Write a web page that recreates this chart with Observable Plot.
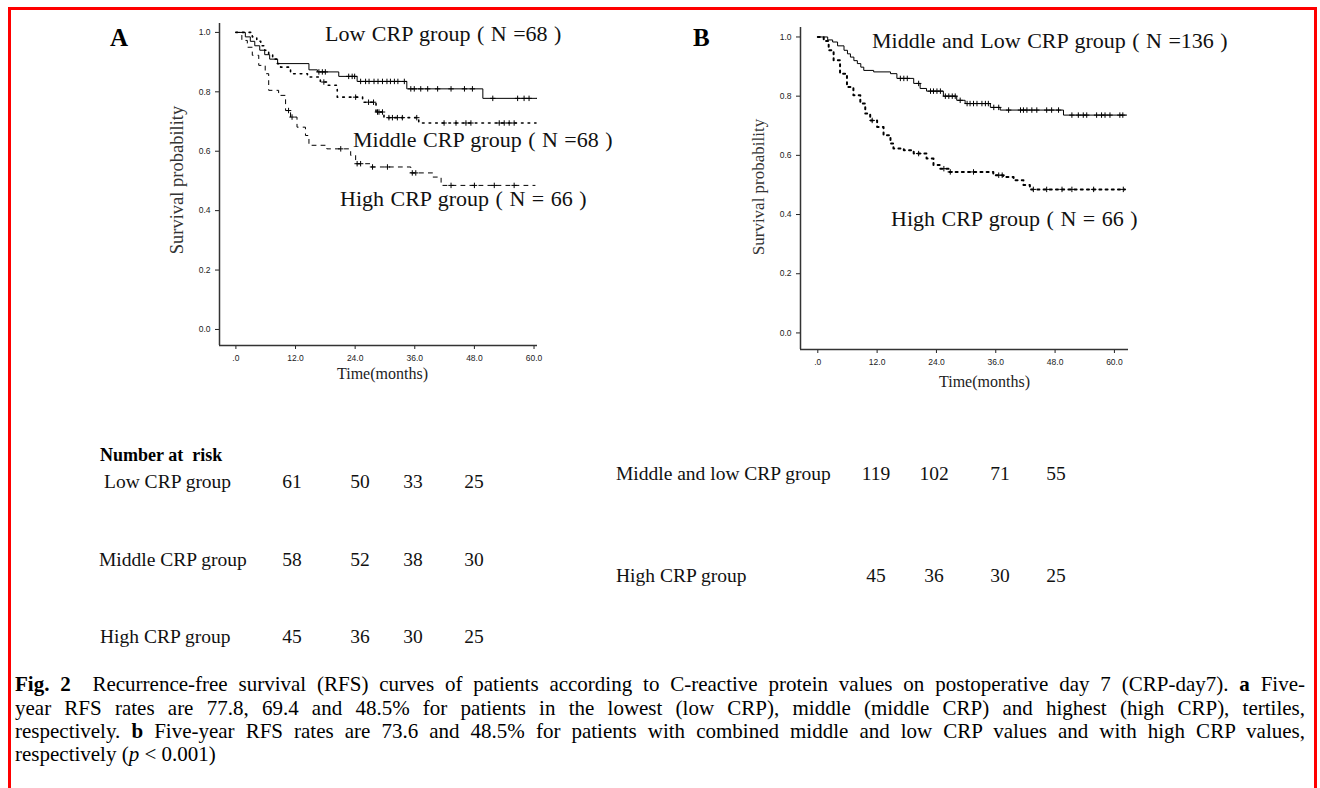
<!DOCTYPE html>
<html><head><meta charset="utf-8">
<script src="https://cdn.jsdelivr.net/npm/d3@7"></script>
<script src="https://cdn.jsdelivr.net/npm/@observablehq/plot@0.6"></script>
<style>
body{margin:0;background:#fff;}
#page{position:relative;width:1320px;height:788px;overflow:hidden;background:#fff;font-family:"Liberation Serif","Times New Roman",serif;color:#111;}
.abs{position:absolute;white-space:pre;line-height:1;}
.lbl{font-size:22px;word-spacing:1px;}
.ax{color:#333;}
.tt{font-size:16px;color:#222;}
.row{font-size:19.5px;}
.num{font-size:19.5px;transform:translateX(-50%);}
.cap{position:absolute;left:15px;width:1290px;font-size:21px;line-height:23.3px;color:#000;}
.cap div{text-align:justify;text-align-last:justify;white-space:normal;}
.cap div.last{text-align:left;text-align-last:left;}
</style></head><body><div id="page"></div>
<script>
// ---------- data ----------
const monthTicks = [0, 12, 24, 36, 48, 60];
const survTicks = [0, 0.2, 0.4, 0.6, 0.8, 1.0];

// Panel A step curves [month, survival]
const lowA = [[0,1],[1.9,0.985],[2.9,0.97],[3.8,0.955],[4.8,0.94],[5.8,0.925],[6.8,0.91],[8.4,0.895],[14.7,0.874],[16.4,0.867],[20.7,0.852],[24.4,0.835],[34.4,0.81],[49.7,0.778],[60.6,0.778]];
const middleA = [[0,1],[3.3,0.985],[4.2,0.97],[5,0.955],[5.8,0.94],[6.6,0.925],[7.4,0.91],[8.2,0.895],[9,0.883],[11,0.861],[14.4,0.85],[17,0.833],[18.4,0.822],[20.4,0.782],[25.5,0.765],[28.2,0.732],[29.8,0.713],[36.8,0.695],[60.4,0.695]];
const highA = [[0,1],[1.2,0.973],[2.3,0.95],[3.3,0.923],[4.6,0.889],[5.9,0.861],[6.6,0.805],[8.6,0.788],[10,0.737],[11,0.715],[12.3,0.681],[14,0.653],[14.7,0.62],[18.3,0.608],[23.1,0.586],[24.1,0.558],[27,0.547],[35.2,0.527],[39.6,0.513],[41.3,0.485],[60.2,0.485]];
// censoring times (months)
const lowACens = [16.7,17.4,18.0,22.7,23.4,23.9,25.1,26.1,26.8,27.8,28.6,29.5,30.4,31.1,31.9,32.6,33.9,35.2,35.9,37.2,38.6,40.6,43.3,46,47.6,51.7,56.7,58,59];
const middleACens = [17.7,24.1,26.7,27.7,28.5,28.8,29.5,30.8,31.5,32.5,33.5,36.4,41.9,44.3,46.3,47.3,53,54,55,56];
const highACens = [10.6,11.3,21.1,24.4,25.1,27.5,30.5,35.5,36.2,43.3,48,52,56];

// Panel B
const midLowB = [[0,1],[2,0.99],[3,0.983],[4,0.97],[5.3,0.955],[6,0.943],[6.6,0.932],[7.3,0.92],[8,0.91],[8.7,0.898],[9.3,0.887],[11.3,0.882],[14.7,0.876],[16,0.86],[19.4,0.843],[20.7,0.826],[22,0.817],[25.4,0.8],[28.1,0.786],[29.8,0.775],[34.9,0.762],[36.9,0.753],[49.7,0.736],[62.5,0.736]];
const highB = [[0,1],[1.2,0.986],[2.2,0.955],[3.2,0.921],[4.5,0.876],[5.9,0.831],[7.2,0.803],[8.6,0.775],[9.6,0.741],[10.6,0.718],[12,0.696],[13.3,0.668],[14.7,0.64],[15.3,0.623],[17.4,0.617],[19.4,0.606],[22,0.589],[23.4,0.567],[24.7,0.555],[26.5,0.544],[35.5,0.533],[37.5,0.527],[39.6,0.516],[41.6,0.5],[42.9,0.485],[62.1,0.485]];
const midLowBCens = [16.7,17.4,18.1,20.4,22.8,23.4,24.1,24.8,25.8,26.5,27.2,27.8,28.8,30.2,30.8,31.5,32.2,33.2,33.9,34.5,35.6,36.6,38.6,41,41.6,42.3,43.3,44.3,46.3,47.3,48.7,51.4,52.7,53.7,54.4,56.4,57.4,58.1,59.1,61.1,61.7];
const highBCens = [11,20.4,25.5,26.8,31.5,36.6,37.3,43.6,46.3,49.4,51.4,55.8,61.8];

// Number at risk
const riskLabelsA = ["Low CRP group", "Middle CRP group", "High CRP group"];
const riskLowA = [61, 50, 33, 25];
const riskMiddleA = [58, 52, 38, 30];
const riskHighA = [45, 36, 30, 25];
const riskLabelsB = ["Middle and low CRP group", "High CRP group"];
const riskMidLowB = [119, 102, 71, 55];
const riskHighB = [45, 36, 30, 25];

// ---------- helpers ----------
function stepAt(curve, t) { let s = curve[0][1]; for (const [ti, si] of curve) if (ti <= t) s = si; return s; }

function km(cfg) {
  const marks = [
    Plot.ruleX([cfg.xDom[0]], {stroke: "#333", strokeWidth: 1.5}),
    Plot.ruleY([cfg.yDom[0]], {stroke: "#333", strokeWidth: 1.5})
  ];
  for (const c of cfg.curves) {
    marks.push(Plot.line(c.data.map(([t, s]) => ({t, s})), {x: "t", y: "s", curve: "step-after", stroke: "#000", strokeWidth: c.w, strokeDasharray: c.dash}));
    marks.push(Plot.dot(c.cens.map(t => ({t, s: stepAt(c.data, t)})), {x: "t", y: "s", symbol: "plus", r: 1.9, stroke: "#000", strokeWidth: 1}));
  }
  return Plot.plot({
    width: cfg.width, height: cfg.height,
    marginLeft: cfg.ml, marginRight: cfg.mr, marginTop: cfg.mt, marginBottom: cfg.mb,
    x: {domain: cfg.xDom, ticks: monthTicks, tickFormat: d => d === 0 ? ".0" : d.toFixed(1), tickSize: 4, label: null},
    y: {domain: cfg.yDom, ticks: survTicks, tickFormat: d => d.toFixed(1), tickSize: 4, label: null},
    style: {fontFamily: "'Liberation Sans', Arial, sans-serif", fontSize: "8.5px", color: "#222", background: "transparent", overflow: "visible"},
    marks
  });
}

const page = document.getElementById("page");
function place(el, left, top) { el.style.position = "absolute"; el.style.left = left + "px"; el.style.top = top + "px"; page.appendChild(el); return el; }
function txt(text, cls, left, top, extra) {
  const d = document.createElement("div"); d.className = "abs " + cls; d.textContent = text;
  if (extra) Object.assign(d.style, extra);
  return place(d, left, top);
}

// border
const border = document.createElement("div");
Object.assign(border.style, {border: "3px solid #f00", borderBottom: "none", width: "1309px", height: "800px", boxSizing: "border-box"});
place(border, 8, 7);

// plots
const plotA = km({width: 397, height: 355, ml: 69, mr: 10, mt: 8, mb: 25, xDom: [-3.3, 60.7], yDom: [-0.054, 1.03],
  curves: [
    {data: lowA, cens: lowACens, w: 1, dash: null},
    {data: middleA, cens: middleACens, w: 1.6, dash: "1.6,5"},
    {data: highA, cens: highACens, w: 1, dash: "4,5"}
  ]});
const wrapA = document.createElement("div"); wrapA.style.width = "397px"; wrapA.appendChild(plotA); place(wrapA, 150, 15);

const plotB = km({width: 398, height: 359, ml: 70, mr: 0, mt: 12, mb: 25, xDom: [-3.5, 62.85], yDom: [-0.056, 1.032],
  curves: [
    {data: midLowB, cens: midLowBCens, w: 1, dash: null},
    {data: highB, cens: highBCens, w: 2, dash: "2,4.2"}
  ]});
const wrapB = document.createElement("div"); wrapB.style.width = "398px"; wrapB.appendChild(plotB); place(wrapB, 730, 15);

// panel letters
txt("A", "", 110, 25, {fontSize: "25px", fontWeight: "bold", color: "#000"});
txt("B", "", 693, 25, {fontSize: "25px", fontWeight: "bold", color: "#000"});

// group labels
txt("Low CRP group ( N =68 )", "lbl", 325, 23.4);
txt("Middle CRP group ( N =68 )", "lbl", 353, 129.4);
txt("High CRP group ( N = 66 )", "lbl", 340, 187.8);
txt("Middle and Low CRP group ( N =136 )", "lbl", 872, 30);
txt("High CRP group ( N = 66 )", "lbl", 891, 207.8);

// axis titles
txt("Survival probability", "ax", 176.5, 180, {fontSize: "18.5px", transform: "translate(-50%,-50%) rotate(-90deg)"});
txt("Survival probability", "ax", 757.5, 187, {fontSize: "17px", transform: "translate(-50%,-50%) rotate(-90deg)"});
txt("Time(months)", "tt", 382.5, 365.6, {transform: "translateX(-50%)"});
txt("Time(months)", "tt", 984.5, 373.6, {transform: "translateX(-50%)"});

// number at risk
txt("Number at  risk", "", 100, 446, {fontSize: "18px", fontWeight: "bold", color: "#000"});
const colsA = [292, 360, 413, 474];
const rowsA = [[riskLowA, 471.7, 104], [riskMiddleA, 549.7, 99], [riskHighA, 626.7, 100]];
rowsA.forEach(([vals, top, left], i) => {
  txt(riskLabelsA[i], "row", left, top);
  vals.forEach((v, j) => txt(String(v), "num", colsA[j], top));
});
const colsB = [876, 934, 1000, 1056];
const rowsB = [[riskMidLowB, 463.7], [riskHighB, 566.4]];
rowsB.forEach(([vals, top], i) => {
  txt(riskLabelsB[i], "row", 616, top);
  vals.forEach((v, j) => txt(String(v), "num", colsB[j], top));
});

// caption
const cap = document.createElement("div"); cap.className = "cap";
cap.innerHTML =
  '<div><b>Fig. 2</b>&nbsp; Recurrence-free survival (RFS) curves of patients according to C-reactive protein values on postoperative day 7 (CRP-day7). <b>a</b> Five-</div>' +
  '<div>year RFS rates are 77.8, 69.4 and 48.5% for patients in the lowest (low CRP), middle (middle CRP) and highest (high CRP), tertiles,</div>' +
  '<div>respectively. <b>b</b> Five-year RFS rates are 73.6 and 48.5% for patients with combined middle and low CRP values and with high CRP values,</div>' +
  '<div class="last">respectively (<i>p</i> &lt; 0.001)</div>';
place(cap, 15, 673.3);
</script>
</body></html>
